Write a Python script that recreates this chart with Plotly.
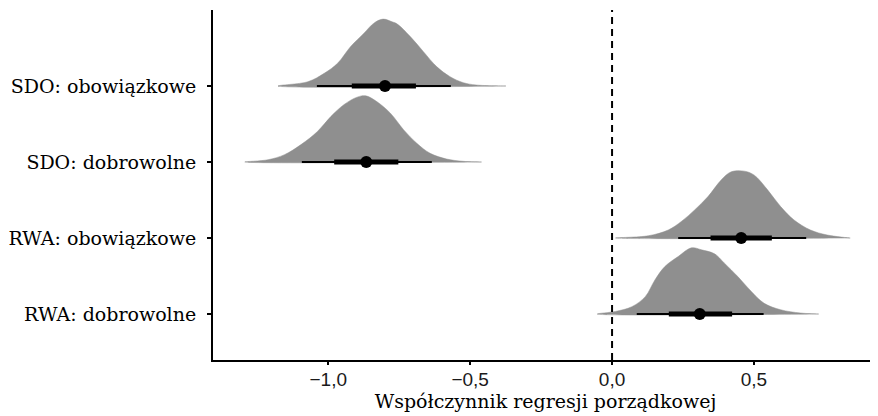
import plotly.graph_objects as go

# Categories (bottom to top)
categories = ["RWA: dobrowolne", "RWA: obowiązkowe", "SDO: dobrowolne", "SDO: obowiązkowe"]

# Slab (posterior density) profiles: x positions and relative heights
rwa_dobr_x = [-0.052, 0.012, 0.07, 0.117, 0.151, 0.186, 0.233, 0.28, 0.315, 0.361, 0.396, 0.443, 0.49, 0.536, 0.594, 0.664, 0.728]
rwa_dobr_d = [0, 0.039, 0.11, 0.26, 0.51, 0.71, 0.86, 0.99, 0.96, 0.90, 0.76, 0.56, 0.34, 0.16, 0.064, 0.015, 0]

rwa_obow_x = [0.012, 0.128, 0.198, 0.245, 0.291, 0.338, 0.385, 0.42, 0.466, 0.501, 0.548, 0.594, 0.641, 0.699, 0.758, 0.839]
rwa_obow_d = [0, 0.034, 0.12, 0.25, 0.42, 0.62, 0.87, 0.99, 1.0, 0.94, 0.72, 0.47, 0.27, 0.12, 0.045, 0]

sdo_dobr_x = [-1.294, -1.212, -1.154, -1.096, -1.037, -0.991, -0.944, -0.898, -0.868, -0.828, -0.781, -0.734, -0.688, -0.641, -0.583, -0.524, -0.46]
sdo_dobr_d = [0, 0.034, 0.11, 0.26, 0.46, 0.68, 0.86, 0.97, 0.99, 0.90, 0.73, 0.48, 0.28, 0.13, 0.045, 0.01, 0]

sdo_obow_x = [-1.177, -1.072, -1.014, -0.967, -0.921, -0.874, -0.839, -0.807, -0.775, -0.758, -0.711, -0.664, -0.618, -0.571, -0.524, -0.478, -0.374]
sdo_obow_d = [0, 0.064, 0.19, 0.34, 0.59, 0.79, 0.94, 1.0, 0.96, 0.93, 0.74, 0.51, 0.29, 0.14, 0.05, 0.015, 0]

# Point estimates and intervals (median, 66% and 95%)
medians = [0.309, 0.455, -0.866, -0.80]
inner_lo = [0.200, 0.347, -0.979, -0.917]
inner_hi = [0.423, 0.563, -0.753, -0.691]
outer_lo = [0.087, 0.233, -1.093, -1.04]
outer_hi = [0.534, 0.684, -0.635, -0.568]

# x-axis ticks
xtick_vals = [-1.0, -0.5, 0.0, 0.5]
xtick_text = ["\u22121,0", "\u22120,5", "0,0", "0,5"]

slab_xs = [rwa_dobr_x, rwa_obow_x, sdo_dobr_x, sdo_obow_x]
slab_ds = [rwa_dobr_d, rwa_obow_d, sdo_dobr_d, sdo_obow_d]

SLAB_SCALE = 0.88
SLAB_COLOR = "#8f8f8f"

fig = go.Figure()

for i, (xs, ds) in enumerate(zip(slab_xs, slab_ds)):
    base = i + 1
    px = list(xs) + [xs[-1], xs[0]]
    py = [base + d * SLAB_SCALE for d in ds] + [base, base]
    fig.add_trace(go.Scatter(
        x=px, y=py, mode="lines", fill="toself", fillcolor=SLAB_COLOR,
        line=dict(color=SLAB_COLOR, width=0.5, shape="spline", smoothing=1.0),
        hoverinfo="skip", showlegend=False,
    ))

for i in range(len(categories)):
    base = i + 1
    fig.add_trace(go.Scatter(
        x=[outer_lo[i], outer_hi[i]], y=[base, base], mode="lines",
        line=dict(color="black", width=2), hoverinfo="skip", showlegend=False,
    ))
    fig.add_trace(go.Scatter(
        x=[inner_lo[i], inner_hi[i]], y=[base, base], mode="lines",
        line=dict(color="black", width=5), hoverinfo="skip", showlegend=False,
    ))
    fig.add_trace(go.Scatter(
        x=[medians[i]], y=[base], mode="markers",
        marker=dict(color="black", size=12), hoverinfo="skip", showlegend=False,
    ))

fig.add_shape(type="line", x0=0, x1=0, xref="x", y0=0, y1=1, yref="paper",
              line=dict(color="black", width=2, dash="7px,5px"), layer="above")

fig.update_layout(
    width=870, height=408,
    margin=dict(l=200, r=0, t=2, b=56),
    paper_bgcolor="white", plot_bgcolor="white",
    showlegend=False,
    xaxis=dict(
        range=[-1.406, 0.937], tickvals=xtick_vals, ticktext=xtick_text,
        showline=True, linecolor="black", linewidth=2, mirror=False,
        ticks="outside", ticklen=3, tickwidth=1.5, tickcolor="black",
        showgrid=False, zeroline=False,
        tickfont=dict(family="Liberation Sans", size=19, color="#1a1a1a"),
        ticklabelstandoff=-2,
        title=dict(text="Współczynnik regresji porządkowej",
                   font=dict(family="DejaVu Serif", size=19, color="black"),
                   standoff=0),
    ),
    yaxis=dict(
        range=[0.395, 5.0], tickvals=[1, 2, 3, 4], ticktext=categories,
        showline=True, linecolor="black", linewidth=2,
        ticks="outside", ticklen=4, tickwidth=1.5, tickcolor="black",
        showgrid=False, zeroline=False,
        tickfont=dict(family="DejaVu Serif", size=19, color="black"),
        ticklabelstandoff=7,
    ),
)

fig.write_html("out.html")
